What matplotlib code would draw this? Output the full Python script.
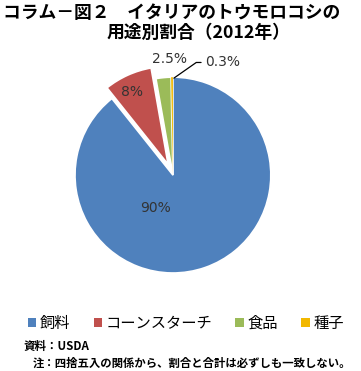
import matplotlib.pyplot as plt
from matplotlib.patches import Patch

plt.rcParams['font.family'] = ['Noto Sans CJK JP', 'DejaVu Sans']

# data
categories = ['飼料', 'コーンスターチ', '食品', '種子']
shares = [90, 8, 2.5, 0.3]
share_labels = ['90%', '8%', '2.5%', '0.3%']
colors = ['#4F81BD', '#C0504D', '#9BBB59', '#F2B800']
explode = [0, 0.12, 0, 0]

fig = plt.figure(figsize=(3.61, 3.71), dpi=100)

# title
fig.text(0.008, 0.966, 'コラム－図２　イタリアのトウモロコシの', fontsize=12.8,
         fontweight='bold', ha='left', va='center')
fig.text(0.55, 0.912, '用途別割合（2012年）', fontsize=12.8,
         fontweight='bold', ha='center', va='center')

# pie
ax = fig.add_axes([0.194, 0.251, 0.57, 0.607])
wedges, _ = ax.pie(shares, colors=colors, startangle=90, counterclock=False,
                   explode=explode, wedgeprops=dict(edgecolor='white', linewidth=1.2))
# the thin seed slice would vanish under a white edge
wedges[3].set_linewidth(0)
wedges[3].set_zorder(wedges[0].get_zorder() + 1)
ax.set_aspect('equal')

txt = dict(fontsize=10, va='center', color='#333333', family='DejaVu Sans')
ax.text(-0.18, -0.34, share_labels[0], ha='center', **txt)
ax.text(-0.42, 0.85, share_labels[1], ha='center', **txt)
ax.text(-0.03, 1.19, share_labels[2], ha='center', **txt)
ax.annotate(share_labels[3], xy=(0.01, 0.99), xytext=(0.33, 1.15), ha='left',
            arrowprops=dict(arrowstyle='-', color='black', lw=0.9, relpos=(0, 0.5),
                            connectionstyle='angle,angleA=0,angleB=35,rad=0',
                            shrinkA=1, shrinkB=0), **txt)
ax.set_xlim(-1.05, 1.05)
ax.set_ylim(-1.05, 1.25)

# legend
handles = [Patch(facecolor=c, edgecolor='none') for c in colors]
fig.legend(handles, categories, loc='center', bbox_to_anchor=(0.515, 0.128), ncol=4,
           frameon=False, fontsize=11, handlelength=0.55, handleheight=0.55,
           handletextpad=0.25, columnspacing=1.5)

# notes
fig.text(0.066, 0.067, '資料：USDA', fontsize=8.3, fontweight='bold', ha='left', va='center')
fig.text(0.09, 0.021, '注：四捨五入の関係から、割合と合計は必ずしも一致しない。', fontsize=8.2,
         fontweight='bold', ha='left', va='center')

fig.savefig('out.png', dpi=100)
